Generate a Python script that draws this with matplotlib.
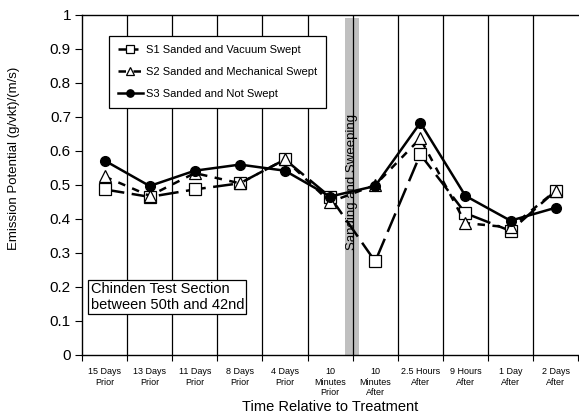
import numpy as np
import matplotlib.pyplot as plt

plt.rcParams['font.family'] = ['Liberation Sans', 'DejaVu Sans']

labels = ['15 Days\nPrior', '13 Days\nPrior', '11 Days\nPrior', '8 Days\nPrior',
          '4 Days\nPrior', '10\nMinutes\nPrior', '10\nMinutes\nAfter',
          '2.5 Hours\nAfter', '9 Hours\nAfter', '1 Day\nAfter', '2 Days\nAfter']
s1 = [0.487, 0.465, 0.487, 0.505, 0.575, 0.465, 0.275, 0.59, 0.417, 0.365, 0.483]
s2 = [0.525, 0.468, 0.535, 0.505, 0.575, 0.45, 0.50, 0.637, 0.388, 0.375, 0.483]
s3 = [0.572, 0.497, 0.542, 0.56, 0.542, 0.466, 0.497, 0.683, 0.468, 0.395, 0.433]
names = ['S1 Sanded and Vacuum Swept', 'S2 Sanded and Mechanical Swept',
         'S3 Sanded and Not Swept']

fig = plt.figure(figsize=(5.79, 4.15), dpi=100)
ax = fig.add_axes([0.1416, 0.1446, 0.857, 0.8193])

x = np.arange(len(labels))
ax.plot(x, s1, color='black', lw=1.8, dashes=(8, 3), marker='s', ms=8,
        mfc='white', mec='black', mew=0.9, label=names[0], zorder=4)
ax.plot(x, s2, color='black', lw=1.8, dashes=(3, 3), marker='^', ms=8,
        mfc='white', mec='black', mew=0.9, label=names[1], zorder=4)
ax.plot(x, s3, color='black', lw=1.8, marker='o', ms=7,
        mfc='black', mec='black', label=names[2], zorder=5)

# treatment band between 10 min prior and 10 min after
ax.axvspan(5.34, 5.64, ymin=0, ymax=0.99, color='#c0c0c0', lw=0, zorder=1)
ax.text(5.48, 0.51, 'Sanding and Sweeping', rotation=90, ha='center', va='center',
        fontsize=9.5, zorder=2)

for b in np.arange(0.5, len(labels) - 0.5, 1):
    ax.axvline(b, color='black', lw=0.9, zorder=1)

ax.set_xlim(-0.5, len(labels) - 0.5)
ax.set_ylim(0, 1)
ax.set_yticks(np.arange(0, 1.01, 0.1))
ax.set_yticklabels(['0'] + ['%.1f' % v for v in np.arange(0.1, 0.95, 0.1)] + ['1'])
ax.tick_params(axis='y', labelsize=11, direction='out', length=5, pad=3)

ax.set_xticks(np.arange(-0.5, len(labels), 1))
ax.set_xticklabels([])
ax.tick_params(axis='x', which='major', direction='out', length=4)
ax.set_xticks(x, minor=True)
ax.set_xticklabels(labels, minor=True, fontsize=6.5)
ax.tick_params(axis='x', which='minor', length=0, pad=9)

ax.spines['right'].set_visible(False)
for s in ['left', 'bottom', 'top']:
    ax.spines[s].set_linewidth(1.0)

fig.text(14 / 579, 1 - 158 / 415, 'Emission Potential (g/vkt)/(m/s)', rotation=90,
         ha='center', va='center', fontsize=9.5)
ax.set_xlabel('Time Relative to Treatment', fontsize=10.5, labelpad=2)

leg = ax.legend(loc='upper left', bbox_to_anchor=(0.044, 0.955), fontsize=8,
                frameon=True, fancybox=False, edgecolor='black', framealpha=1,
                handlelength=2.2, handletextpad=0.3, labelspacing=1.1,
                borderpad=0.8, markerscale=0.75)
leg.get_frame().set_linewidth(0.9)

ax.text(-0.31, 0.17, 'Chinden Test Section\nbetween 50th and 42nd', fontsize=10.5,
        ha='left', va='center', zorder=6,
        bbox=dict(boxstyle='square,pad=0.15', fc='white', ec='black', lw=0.9))

fig.savefig('out.png', dpi=100)
